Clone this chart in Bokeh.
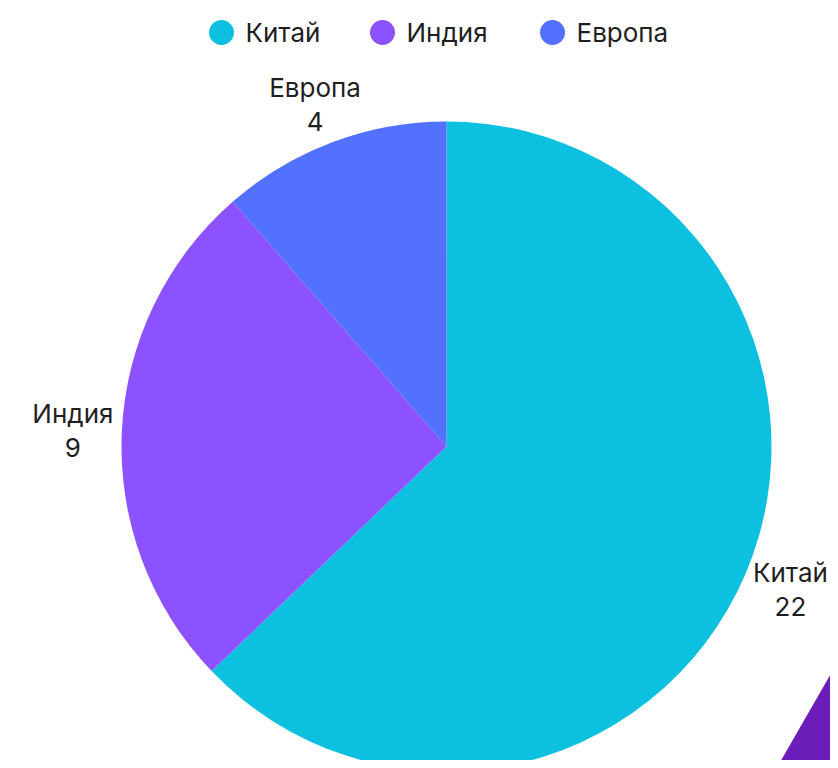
import math
from bokeh.plotting import figure
from bokeh.models import Range1d, ColumnDataSource
from bokeh.core.properties import value
from bokeh.embed import file_html
from bokeh.resources import INLINE

# ---- data ----
categories = ["Китай", "Индия", "Европа"]
values = [22, 9, 4]
colors = ["#0EC0E0", "#8C52FF", "#5271FF"]

# ---- layout constants ----
W, H = 830, 760
CX, CY, R = 446, 314, 325
LABEL_RX, LABEL_RY = 374, 365
FONT = "Inter"
FS = "26px"
TEXT_COLOR = "#1f1f1f"

p = figure(width=W, height=H, output_backend="svg", toolbar_location=None,
           x_range=Range1d(0, W), y_range=Range1d(0, H), min_border=0)
p.axis.visible = False
p.grid.visible = False
p.outline_line_color = None
p.background_fill_color = "white"
p.border_fill_color = "white"

total = sum(values)
starts, ends, mids = [], [], []
acc = 0.0
for v in values:
    a0 = math.pi / 2 - 2 * math.pi * acc / total
    acc += v
    a1 = math.pi / 2 - 2 * math.pi * acc / total
    starts.append(a0)
    ends.append(a1)
    mids.append((a0 + a1) / 2)

src = ColumnDataSource(dict(start=starts, end=ends, color=colors, cat=categories))
p.wedge(x=CX, y=CY, radius=R, start_angle="start", end_angle="end",
        direction="clock", fill_color="color", line_color=None, source=src)

# labels
lx = [CX + LABEL_RX * math.cos(m) for m in mids]
ly = [CY + LABEL_RY * math.sin(m) for m in mids]
ltxt = [f"{c}\n{v}" for c, v in zip(categories, values)]
p.text(x=lx, y=ly, text=ltxt, text_align="center", text_baseline="middle",
       text_font=value(FONT), text_font_size=FS, text_color=TEXT_COLOR,
       text_line_height=1.1)

# legend (manual)
leg_x = [221, 382, 552]
leg_y = 728
p.scatter(x=leg_x, y=[leg_y] * 3, size=25, marker="circle", fill_color=colors, line_color=None)
p.text(x=[x + 24 for x in leg_x], y=[leg_y] * 3, text=categories, text_align="left",
       text_baseline="middle", text_font=value(FONT), text_font_size=FS, text_color=TEXT_COLOR)

# decorative corner triangle
p.patch(x=[838, 850, 850, 769], y=[100, 100, -20, -20], fill_color="#6B1CB9", line_color=None)

open("out.html", "w").write(file_html(p, INLINE))
